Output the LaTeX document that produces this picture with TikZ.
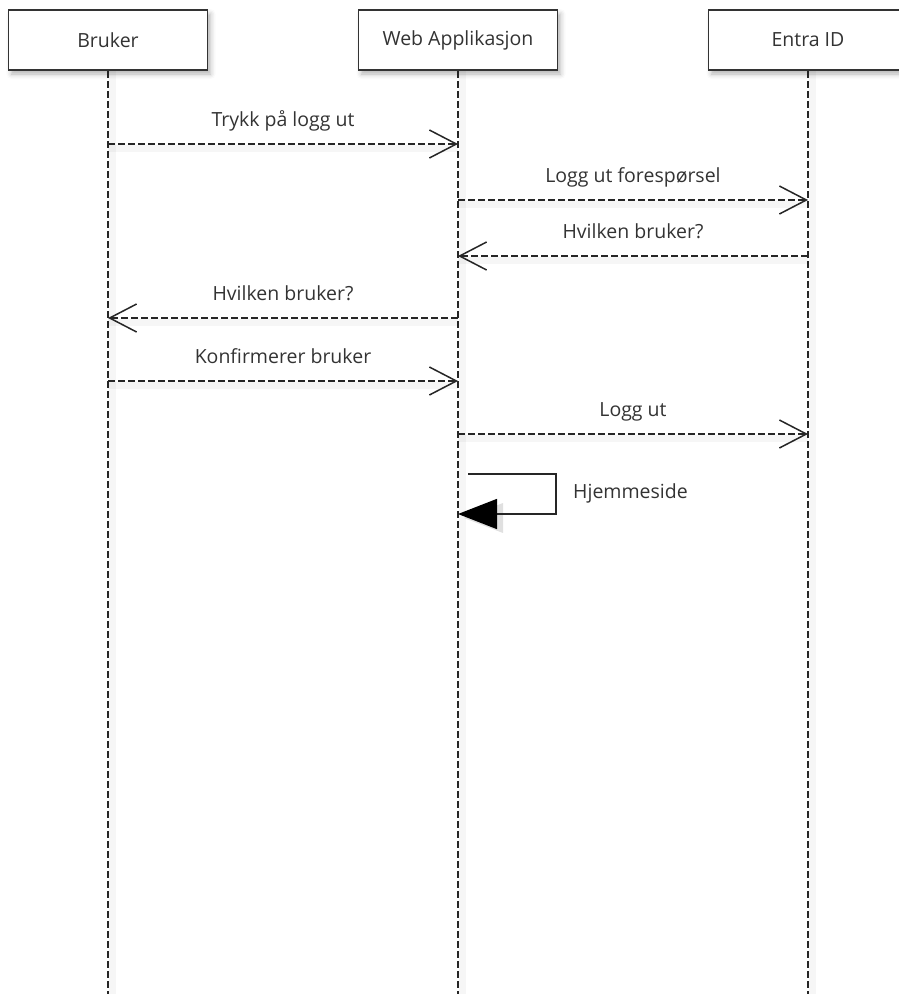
\documentclass[tikz,border=0pt]{standalone}
\usepackage{fontspec}
\setmainfont{Open Sans}
\usetikzlibrary{arrows.meta,shadows.blur}
\tikzset{
  txt/.style={font=\fontsize{19.5}{23}\selectfont, text=black!80},
  actor/.style={txt, draw=black!80, line width=1.5pt, fill=white,
    minimum width=199pt, minimum height=60pt, inner sep=0pt,
    blur shadow={shadow xshift=3pt, shadow yshift=-4pt, shadow blur radius=5pt, shadow opacity=30}},
  lifeline/.style={line width=1.5pt, black!85, dash pattern=on 7pt off 3pt},
  shade/.style={line width=7pt, black, opacity=0.035},
  msg/.style={line width=1.5pt, black!85, dash pattern=on 7pt off 3pt,
    -{Straight Barb[length=27pt,width=28pt,line width=1.5pt]}},
  lbl/.style={txt, anchor=base, inner sep=0pt},
  selfmsg/.style={line width=1.5pt, black!85,
    -{Triangle[length=39pt,width=30pt,fill=black,color=black]}},
}
\begin{document}
\begin{tikzpicture}[x=1pt,y=-1pt]
\useasboundingbox (0,0) rectangle (899,994);
\clip (0,0) rectangle (899,994);
% actors
\node[actor] (bruker) at (108,40) {Bruker};
\node[actor] (web) at (458,40) {Web Applikasjon};
\node[actor] (entra) at (808,40) {Entra ID};
% lifeline ends
\coordinate (bEnd) at (108,994);
\coordinate (wEnd) at (458,994);
\coordinate (eEnd) at (808,994);
% lifeline shadows
\draw[shade] ([xshift=4pt]bruker.south) -- ([xshift=4pt]bEnd);
\draw[shade] ([xshift=4pt]web.south) -- ([xshift=4pt]wEnd);
\draw[shade] ([xshift=4pt]entra.south) -- ([xshift=4pt]eEnd);
% lifelines
\draw[lifeline] (bruker.south) -- (bEnd);
\draw[lifeline] (web.south) -- (wEnd);
\draw[lifeline] (entra.south) -- (eEnd);
% message end points
\coordinate (b1) at (bruker.south |- 0,144); \coordinate (w1) at (web.south |- 0,144);
\coordinate (w2) at (web.south |- 0,200);    \coordinate (e2) at (entra.south |- 0,200);
\coordinate (e3) at (entra.south |- 0,256);  \coordinate (w3) at (web.south |- 0,256);
\coordinate (w4) at (web.south |- 0,318);    \coordinate (b4) at (bruker.south |- 0,318);
\coordinate (b5) at (bruker.south |- 0,381); \coordinate (w5) at (web.south |- 0,381);
\coordinate (w6) at (web.south |- 0,434);    \coordinate (e6) at (entra.south |- 0,434);
% message shadows
\foreach \a/\b in {b1/w1,w2/e2,e3/w3,w4/b4,b5/w5,w6/e6}
  \draw[shade] ([yshift=-4pt]\a) -- ([yshift=-4pt]\b);
% messages
\draw[msg] (b1) -- (w1) node[lbl, midway, yshift=18pt] {Trykk på logg ut};
\draw[msg] (w2) -- (e2) node[lbl, midway, yshift=18pt] {Logg ut forespørsel};
\draw[msg] (e3) -- (w3) node[lbl, midway, yshift=18pt] {Hvilken bruker?};
\draw[msg] (w4) -- (b4) node[lbl, midway, yshift=18pt] {Hvilken bruker?};
\draw[msg] (b5) -- (w5) node[lbl, midway, yshift=18pt] {Konfirmerer bruker};
\draw[msg] (w6) -- (e6) node[lbl, midway, yshift=18pt] {Logg ut};
% self message
\coordinate (s1) at (468,474);
\coordinate (s2) at (556,474);
\coordinate (s3) at (556,514);
\coordinate (s4) at (web.south |- 0,514);
\fill[black, opacity=0.12] (464,518) -- (503,503) -- (503,533) -- cycle;
\draw[selfmsg] (s1) -- (s2) -- (s3) -- (s4);
\node[lbl, anchor=base west] (home) at (573,498) {Hjemmeside};
\end{tikzpicture}
\end{document}
